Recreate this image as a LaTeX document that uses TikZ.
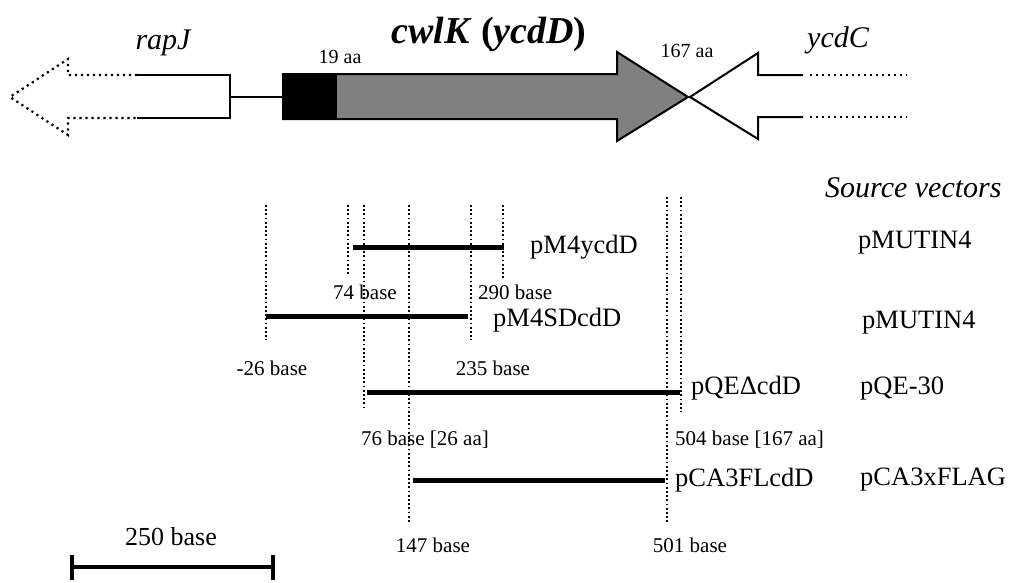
\documentclass[tikz,border=0pt]{standalone}
\usepackage{fontspec}
\setmainfont{Liberation Serif}
\begin{document}
\begin{tikzpicture}[x=1pt,y=-1pt,
  lbl/.style={font=\fontsize{26.5}{30}\selectfont, inner sep=0pt},
  baselbl/.style={font=\fontsize{21}{24}\selectfont, inner sep=0pt},
  aalbl/.style={font=\fontsize{20}{22}\selectfont, inner sep=0pt},
  genelbl/.style={font=\fontsize{30}{32}\selectfont\itshape, inner sep=0pt},
  guide/.style={line width=1.7pt, dash pattern=on 1.7pt off 2.5pt},
  cbar/.style={line width=5pt},
  geneline/.style={line width=2pt, line join=miter},
  genedots/.style={line width=2.2pt, dash pattern=on 2.2pt off 3.8pt}]
\useasboundingbox (0,0) rectangle (1024,582);

% ---------- gene map ----------
% rapJ
\draw[genedots] (137,75) -- (68,75) -- (68,59) -- (10,97) -- (68,135) -- (68,118) -- (137,118);
\draw[geneline] (137,75) -- (230,75) -- (230,118) -- (137,118);
\coordinate (rapjend) at (230,97);
% cwlK
\draw[geneline, fill={rgb,255:red,128;green,128;blue,128}]
  (283,74) -- (617,74) -- (617,52) -- (688,97) -- (617,141) -- (617,119) -- (283,119) -- cycle;
\fill (283,74) rectangle (337,119);
\coordinate (cwlkstart) at (283,97);
\draw[line width=1.3pt] (rapjend) -- (cwlkstart);
% ycdC
\draw[geneline, fill=white]
  (803,75) -- (758,75) -- (758,53) -- (690,97) -- (758,139) -- (758,117) -- (803,117);
\draw[genedots] (810,75) -- (907,75);
\draw[genedots] (810,117) -- (907,117);

\node[genelbl] (rapj) at (163,43) {rapJ};
\node[genelbl] (ycdc) at (838,40) {ycdC};
\node[inner sep=0pt, font=\fontsize{38}{40}\selectfont\bfseries] (cwlk) at (489,34) {\textit{cwlK} (\textit{ycdD})};
\node[aalbl] (aa19) at (340,57) {19 aa};
\node[aalbl] (aa167) at (687,51) {167 aa};

% ---------- guide lines ----------
\draw[guide] (266,205) -- (266,340);
\draw[guide] (348,205) -- (348,275);
\draw[guide] (364,205) -- (364,410);
\draw[guide] (409,205) -- (409,523);
\draw[guide] (471,205) -- (471,340);
\draw[guide] (503,205) -- (503,278);
\draw[guide] (667,197) -- (667,523);
\draw[guide] (681,197) -- (681,412);

% ---------- constructs ----------
\coordinate (a1) at (353,247); \coordinate (a2) at (504,247);
\coordinate (b1) at (266,316); \coordinate (b2) at (468,316);
\coordinate (c1) at (367,392); \coordinate (c2) at (680,392);
\coordinate (d1) at (413,480); \coordinate (d2) at (665,480);
\draw[cbar] (a1) -- (a2);
\draw[cbar] (b1) -- (b2);
\draw[cbar] (c1) -- (c2);
\draw[cbar] (d1) -- (d2);

\node[lbl, anchor=west] (pm4y) at (530,247) {pM4ycdD};
\node[lbl, anchor=west] (pm4s) at (493,320) {pM4SDcdD};
\node[lbl, anchor=west] (pqe) at (691,388) {pQEΔcdD};
\node[lbl, anchor=west] (pca) at (675,480) {pCA3FLcdD};

\node[baselbl] (b74) at (365,292) {74 base};
\node[baselbl, anchor=west] (b290) at (478,292) {290 base};
\node[baselbl] (bm26) at (272,368) {-26 base};
\node[baselbl] (b235) at (493,368) {235 base};
\node[baselbl] (b76) at (425,440) {76 base [26 aa]};
\node[baselbl, anchor=west] (b504) at (675,440) {504 base [167 aa]};
\node[baselbl] (b147) at (433,545) {147 base};
\node[baselbl] (b501) at (690,545) {501 base};

% ---------- source vectors ----------
\node[font=\fontsize{30}{32}\selectfont\itshape, inner sep=0pt, anchor=west] (src) at (825,188) {Source vectors};
\node[lbl, anchor=west] (v1) at (858,243) {pMUTIN4};
\node[lbl, anchor=west] (v2) at (862,323) {pMUTIN4};
\node[lbl, anchor=west] (v3) at (860,388) {pQE-30};
\node[lbl, anchor=west] (v4) at (860,480) {pCA3xFLAG};

% ---------- scale bar ----------
\coordinate (s1) at (72,567); \coordinate (s2) at (273,567);
\draw[line width=4pt] (s1) -- (s2);
\draw[line width=4pt] (72,555) -- (72,580);
\draw[line width=4pt] (273,555) -- (273,580);
\node[font=\fontsize{26}{28}\selectfont, inner sep=0pt] (scl) at (171,537) {250 base};
\end{tikzpicture}
\end{document}
